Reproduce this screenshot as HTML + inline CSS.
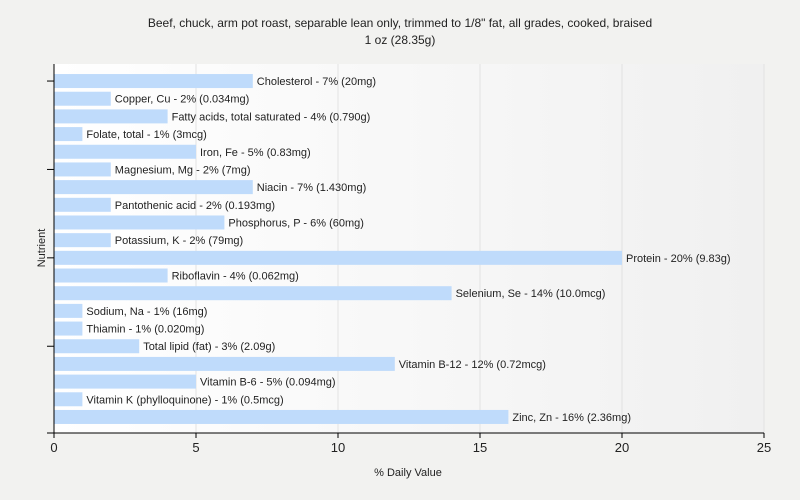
<!DOCTYPE html>
<html><head><meta charset="utf-8"><style>
body{margin:0;background:#f2f2f0;}
svg{display:block;font-family:"Liberation Sans",sans-serif;}
</style></head><body>
<svg width="800" height="500">
<defs><linearGradient id="bg" x1="0" x2="1" y1="0" y2="0"><stop offset="0" stop-color="#ffffff"/><stop offset="1" stop-color="#f0f0f0"/></linearGradient></defs>
<rect x="0" y="0" width="800" height="500" fill="#f2f2f0"/>
<rect x="54" y="64" width="710" height="369" fill="url(#bg)"/>
<text x="400" y="27" text-anchor="middle" font-size="12" fill="#222">Beef, chuck, arm pot roast, separable lean only, trimmed to 1/8" fat, all grades, cooked, braised</text>
<text x="400" y="44" text-anchor="middle" font-size="12" fill="#222">1 oz (28.35g)</text>
<g id="grid"></g><g id="bars"></g><g id="axes"></g>
<text x="408" y="476" text-anchor="middle" font-size="11" fill="#222">% Daily Value</text>
<text x="45" y="248" text-anchor="middle" font-size="11" fill="#222" transform="rotate(-90 45 248)">Nutrient</text>
</svg>
<script>
const categories=["Cholesterol","Copper, Cu","Fatty acids, total saturated","Folate, total","Iron, Fe","Magnesium, Mg","Niacin","Pantothenic acid","Phosphorus, P","Potassium, K","Protein","Riboflavin","Selenium, Se","Sodium, Na","Thiamin","Total lipid (fat)","Vitamin B-12","Vitamin B-6","Vitamin K (phylloquinone)","Zinc, Zn"];
const values=[7,2,4,1,5,2,7,2,6,2,20,4,14,1,1,3,12,5,1,16];
const amounts=["20mg","0.034mg","0.790g","3mcg","0.83mg","7mg","1.430mg","0.193mg","60mg","79mg","9.83g","0.062mg","10.0mcg","16mg","0.020mg","2.09g","0.72mcg","0.094mg","0.5mcg","2.36mg"];
const xTicks=[0,5,10,15,20,25];
const NS="http://www.w3.org/2000/svg";
const x0=54,x1=764,xmax=25,yTop=72.2,pitch=17.68,bh=14;
const xs=v=>x0+v/xmax*(x1-x0);
const yc=i=>yTop+pitch*(i+0.5);
function mk(t,a,p){const e=document.createElementNS(NS,t);for(const k in a)e.setAttribute(k,a[k]);p.appendChild(e);return e;}
const grid=document.getElementById('grid'),bars=document.getElementById('bars'),axes=document.getElementById('axes');
xTicks.forEach(t=>{if(t===0)return;
const g=mk('line',{x1:xs(t),x2:xs(t),y1:64,y2:433,stroke:'#e2e2e2'},grid);

});
categories.forEach((c,i)=>{
const r=mk('rect',{x:x0,y:yc(i)-bh/2,width:xs(values[i])-x0,height:bh,fill:'#bfdbfb'},bars);


const t=mk('text',{x:xs(values[i])+4,y:yc(i)+4,'font-size':11,fill:'#222'},bars);
t.textContent=c+' - '+values[i]+'% ('+amounts[i]+')';


});
const ya=mk('line',{x1:x0,x2:x0,y1:64,y2:433,stroke:'#000'},axes);


const xa=mk('line',{x1:47,x2:x1,y1:433,y2:433,stroke:'#000'},axes);


[0,5,10,15].forEach(i=>{
const tk=mk('line',{x1:47,x2:x0,y1:yc(i),y2:yc(i),stroke:'#000'},axes);

});
xTicks.forEach(t=>{
const tk=mk('line',{x1:xs(t),x2:xs(t),y1:433,y2:438,stroke:'#000'},axes);


const tl=mk('text',{x:xs(t),y:452,'text-anchor':'middle','font-size':13,fill:'#222'},axes);
tl.textContent=t;

});
</script>
</body></html>
